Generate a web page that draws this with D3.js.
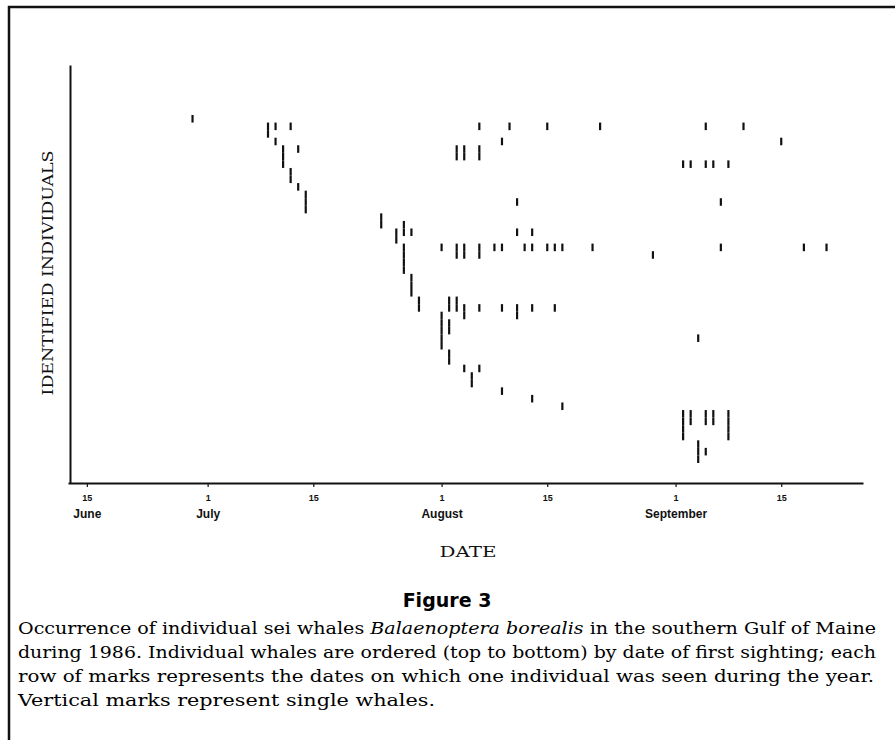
<!DOCTYPE html>
<html>
<head>
<meta charset="utf-8">
<script src="https://cdn.jsdelivr.net/npm/d3@7"></script>
<style>
    body { margin: 0; background: #fff; }
    svg { display: block; }
</style>
</head>
<body>
<div id="chart"></div>
<script>

// sighting dates (MM-DD, 1986) for each identified whale, top row first
var rows = [
    ["06-29"],
    ["07-09", "07-10", "07-12", "08-06", "08-10", "08-15", "08-22", "09-05", "09-10"],
    ["07-09"],
    ["07-10", "08-09", "09-15"],
    ["07-11", "07-13", "08-03", "08-04", "08-06"],
    ["07-11", "08-03", "08-04", "08-06"],
    ["07-11", "09-02", "09-03", "09-05", "09-06", "09-08"],
    ["07-12"],
    ["07-12"],
    ["07-13"],
    ["07-14"],
    ["07-14", "08-11", "09-07"],
    ["07-14"],
    ["07-24"],
    ["07-24", "07-27"],
    ["07-26", "07-27", "07-28", "08-11", "08-13"],
    ["07-26"],
    ["07-27", "08-01", "08-03", "08-04", "08-06", "08-08", "08-09", "08-12", "08-13", "08-15", "08-16", "08-17", "08-21", "09-07", "09-18", "09-21"],
    ["07-27", "08-03", "08-04", "08-06", "08-29"],
    ["07-27"],
    ["07-27"],
    ["07-28"],
    ["07-28"],
    ["07-28"],
    ["07-29", "08-02", "08-03"],
    ["07-29", "08-02", "08-03", "08-04", "08-06", "08-09", "08-11", "08-13", "08-16"],
    ["08-01", "08-04", "08-11"],
    ["08-01", "08-02"],
    ["08-01", "08-02"],
    ["08-01", "09-04"],
    ["08-01"],
    ["08-02"],
    ["08-02"],
    ["08-04", "08-06"],
    ["08-05"],
    ["08-05"],
    ["08-09"],
    ["08-13"],
    ["08-17"],
    ["09-02", "09-03", "09-05", "09-06", "09-08"],
    ["09-02", "09-03", "09-05", "09-06", "09-08"],
    ["09-02", "09-08"],
    ["09-02", "09-08"],
    ["09-04"],
    ["09-04", "09-05"],
    ["09-04"]
];

// x axis ticks
var tickDates = ["06-15", "07-01", "07-15", "08-01", "08-15", "09-01", "09-15"];
var tickDays = ["15", "1", "15", "1", "15", "1", "15"];
var tickMonths = ["June", "July", "", "August", "", "September", ""];

// caption, italic parts between bars
var captionLines = [
    "Occurrence of individual sei whales |Balaenoptera borealis| in the southern Gulf of Maine",
    "during 1986. Individual whales are ordered (top to bottom) by date of first sighting; each",
    "row of marks represents the dates on which one individual was seen during the year.",
    "Vertical marks represent single whales."
];
var captionWidths = [858, 858, 856, 417];


(function () {

    var width = 895;
    var height = 740;

    var parseDay = d3.utcParse("%Y-%m-%d");
    var day = function (s) { return parseDay("1986-" + s); };

    var svg = d3.select("#chart")
        .append("svg")
        .attr("width", width)
        .attr("height", height);

    // page frame, only top and left edges are in view
    svg.append("path")
        .attr("d", "M9," + height + "V7H" + width)
        .attr("fill", "none")
        .attr("stroke", "#111")
        .attr("stroke-width", 2.5);

    // scales
    var x = d3.scaleUtc()
        .domain([new Date(Date.UTC(1986, 5, 12, 12)), new Date(Date.UTC(1986, 8, 25, 20))])
        .range([68, 863]);

    var y = d3.scaleLinear()
        .domain([0, rows.length])
        .range([115, 463]);

    // flatten rows into single marks
    var marks = [];
    rows.forEach(function (r, i) {
        r.forEach(function (d) {
            marks.push({ row: i, date: day(d) });
        });
    });

    // x axis
    var xAxis = d3.axisBottom(x)
        .tickValues(tickDates.map(day))
        .tickFormat(function (d, i) { return tickDays[i]; })
        .tickSize(4)
        .tickSizeOuter(0)
        .tickPadding(8);

    var gx = svg.append("g")
        .attr("transform", "translate(0,483)")
        .call(xAxis);

    gx.select(".domain")
        .attr("stroke", "#111")
        .attr("stroke-width", 2);
    gx.selectAll(".tick line")
        .attr("stroke", "#111")
        .attr("stroke-width", 1.2);
    gx.selectAll(".tick text")
        .attr("fill", "#111")
        .style("font-family", "'Liberation Sans', Arial, sans-serif")
        .style("font-weight", "bold")
        .style("font-size", "9px");

    // month names below the day numbers
    gx.selectAll(".tick")
        .append("text")
        .attr("y", 35)
        .attr("fill", "#111")
        .attr("text-anchor", "middle")
        .style("font-family", "'Liberation Sans', Arial, sans-serif")
        .style("font-weight", "bold")
        .style("font-size", "12px")
        .text(function (d, i) { return tickMonths[i]; });

    // y axis: plain line, no ticks
    var yLine = y.copy()
        .domain([y.invert(65), y.invert(483)])
        .range([65, 483]);
    var gy = svg.append("g")
        .attr("transform", "translate(70,0)")
        .call(d3.axisLeft(yLine).tickValues([]).tickSizeOuter(0));
    gy.select(".domain")
        .attr("stroke", "#111")
        .attr("stroke-width", 2);

    // sighting marks
    svg.append("g")
        .selectAll("line")
        .data(marks)
        .enter()
        .append("line")
        .attr("x1", function (d) { return x(d.date); })
        .attr("x2", function (d) { return x(d.date); })
        .attr("y1", function (d) { return y(d.row); })
        .attr("y2", function (d) { return y(d.row + 1); })
        .attr("stroke", "#111")
        .attr("stroke-width", 2.2);

    // axis titles
    svg.append("text")
        .attr("x", 468)
        .attr("y", 557)
        .attr("text-anchor", "middle")
        .attr("textLength", 57)
        .attr("lengthAdjust", "spacingAndGlyphs")
        .style("font-family", "'DejaVu Serif', serif")
        .style("font-size", "15px")
        .attr("fill", "#111")
        .text("DATE");

    svg.append("text")
        .attr("transform", "translate(53,273) rotate(-90)")
        .attr("text-anchor", "middle")
        .attr("textLength", 245)
        .attr("lengthAdjust", "spacingAndGlyphs")
        .style("font-family", "'DejaVu Serif', serif")
        .style("font-size", "15px")
        .attr("fill", "#111")
        .text("IDENTIFIED  INDIVIDUALS");

    // figure title and caption
    svg.append("text")
        .attr("x", 447)
        .attr("y", 607)
        .attr("text-anchor", "middle")
        .style("font-family", "'DejaVu Sans', sans-serif")
        .style("font-weight", "bold")
        .style("font-size", "19px")
        .attr("fill", "#000")
        .text("Figure 3");

    var caption = svg.append("g")
        .style("font-family", "'DejaVu Serif', serif")
        .style("font-size", "17px")
        .attr("fill", "#000");

    captionLines.forEach(function (line, i) {
        var t = caption.append("text")
            .attr("x", 18)
            .attr("y", 634 + i * 24)
            .attr("textLength", captionWidths[i])
            .attr("lengthAdjust", "spacingAndGlyphs");
        line.split("|").forEach(function (part, j) {
            t.append("tspan")
                .style("font-style", j % 2 ? "italic" : "normal")
                .text(part);
        });
    });

})();
</script>
</body>
</html>
